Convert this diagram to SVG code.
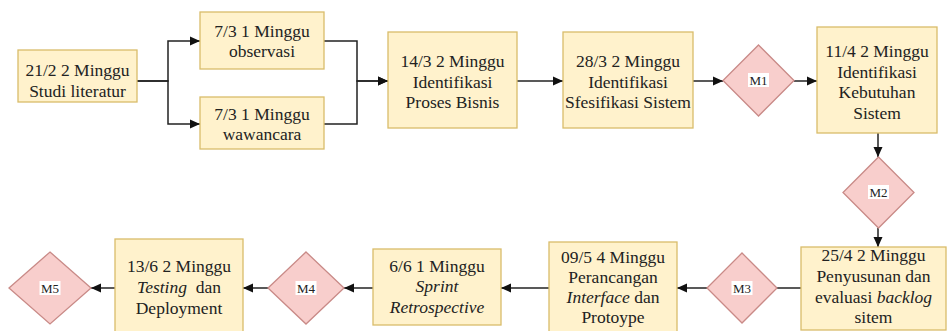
<svg xmlns="http://www.w3.org/2000/svg" width="948" height="331" viewBox="0 0 948 331" font-family="Liberation Serif, Times New Roman, serif">
  <style>
    svg text, svg tspan { font-family: "Liberation Serif", "Times New Roman", serif !important; }
    .task { fill: #fff2cc; stroke: #d9bc6a; stroke-width: 1.3; }
    .milestone { fill: #f8cecc; stroke: #c98a87; stroke-width: 1.3; }
    .mbg { fill: #ffffff; }
    .edge { fill: none; stroke: #222; stroke-width: 1.5; }
    .arrow { marker-end: url(#arrow); }
  </style>
  <defs>
    <marker id="arrow" viewBox="0 0 10 10" refX="10" refY="5" markerWidth="10" markerHeight="10" markerUnits="userSpaceOnUse" orient="auto">
      <path d="M0,0.5 L10,5 L0,9.5 Z" fill="#111"/>
    </marker>
  </defs>

  <rect width="948" height="331" fill="#ffffff"/>

  <!-- connectors -->
  <g id="connectors">
    <path class="edge arrow" d="M137,81 H168 V41 H200"/>
    <path class="edge arrow" d="M137,81 H168 V124 H200"/>
    <path class="edge arrow" d="M324,41 H357 V81 H388"/>
    <path class="edge arrow" d="M324,124 H357 V81 H388"/>
    <path class="edge arrow" d="M517,81 H563"/>
    <path class="edge arrow" d="M693,81 H723"/>
    <path class="edge arrow" d="M794,81 H817"/>
    <path class="edge arrow" d="M878,133 V157"/>
    <path class="edge arrow" d="M878,228 V247"/>
    <path class="edge" d="M801,288 H777"/>
    <path class="edge arrow" d="M707,288 H677"/>
    <path class="edge arrow" d="M549,288 H501"/>
    <path class="edge arrow" d="M373,288 H344"/>
    <path class="edge arrow" d="M268,288 H243"/>
    <path class="edge arrow" d="M115,288 H91"/>
  </g>

  <g fill="#222" text-anchor="middle">
  <!-- top row -->
  <g id="studi-literatur">
    <rect class="task" x="18" y="50" width="119" height="52"/>
    <text x="77.5" y="76" font-family="Liberation Serif" font-size="17.5">21/2 2 Minggu</text>
    <text x="77.5" y="97" font-family="Liberation Serif" font-size="17.5">Studi literatur</text>
  </g>
  <g id="observasi">
    <rect class="task" x="200" y="12" width="124" height="57"/>
    <text x="262" y="37" font-family="Liberation Serif" font-size="17.5">7/3 1 Minggu</text>
    <text x="262" y="57" font-family="Liberation Serif" font-size="17.5">observasi</text>
  </g>
  <g id="wawancara">
    <rect class="task" x="200" y="97" width="124" height="52"/>
    <text x="262" y="120" font-family="Liberation Serif" font-size="17.5">7/3 1 Minggu</text>
    <text x="262" y="140" font-family="Liberation Serif" font-size="17.5">wawancara</text>
  </g>
  <g id="proses-bisnis">
    <rect class="task" x="388" y="32" width="129" height="96"/>
    <text x="452.5" y="67" font-family="Liberation Serif" font-size="17.5">14/3 2 Minggu</text>
    <text x="452.5" y="87.5" font-family="Liberation Serif" font-size="17.5">Identifikasi</text>
    <text x="452.5" y="108" font-family="Liberation Serif" font-size="17.5">Proses Bisnis</text>
  </g>
  <g id="spesifikasi-sistem">
    <rect class="task" x="563" y="32" width="130" height="96"/>
    <text x="628" y="67" font-family="Liberation Serif" font-size="17.5">28/3 2 Minggu</text>
    <text x="628" y="87.5" font-family="Liberation Serif" font-size="17.5">Identifikasi</text>
    <text x="628" y="108" font-family="Liberation Serif" font-size="17.5">Sfesifikasi Sistem</text>
  </g>
  <g id="m1">
    <polygon class="milestone" points="758.5,45 794,80.5 758.5,116 723,80.5"/>
    <rect class="mbg" x="748" y="73" width="21" height="14"/>
    <text x="758.5" y="85" font-family="Liberation Serif" font-size="13">M1</text>
  </g>
  <g id="kebutuhan-sistem">
    <rect class="task" x="817" y="27" width="120" height="106"/>
    <text x="877" y="57" font-family="Liberation Serif" font-size="17.5">11/4 2 Minggu</text>
    <text x="877" y="78" font-family="Liberation Serif" font-size="17.5">Identifikasi</text>
    <text x="877" y="98" font-family="Liberation Serif" font-size="17.5">Kebutuhan</text>
    <text x="877" y="119" font-family="Liberation Serif" font-size="17.5">Sistem</text>
  </g>

  <!-- right column and bottom row -->
  <g id="m2">
    <polygon class="milestone" points="878.5,157 914,192.5 878.5,228 843,192.5"/>
    <rect class="mbg" x="868" y="185" width="21" height="14"/>
    <text x="878.5" y="197" font-family="Liberation Serif" font-size="13">M2</text>
  </g>
  <g id="backlog">
    <rect class="task" x="801" y="247" width="145" height="83"/>
    <text x="873.5" y="261" font-family="Liberation Serif" font-size="17.5">25/4 2 Minggu</text>
    <text x="873.5" y="282" font-family="Liberation Serif" font-size="17.5">Penyusunan dan</text>
    <text x="873.5" y="303" font-family="Liberation Serif" font-size="17.5">evaluasi <tspan font-style="italic">backlog</tspan></text>
    <text x="873.5" y="323" font-family="Liberation Serif" font-size="17.5">sitem</text>
  </g>
  <g id="m3">
    <polygon class="milestone" points="742,253 777,288 742,323 707,288"/>
    <rect class="mbg" x="731.5" y="281" width="21" height="14"/>
    <text x="742" y="292.5" font-family="Liberation Serif" font-size="13">M3</text>
  </g>
  <g id="perancangan-interface">
    <rect class="task" x="549" y="242" width="128" height="94"/>
    <text x="613" y="263" font-family="Liberation Serif" font-size="17.5">09/5 4 Minggu</text>
    <text x="613" y="283" font-family="Liberation Serif" font-size="17.5">Perancangan</text>
    <text x="613" y="303" font-family="Liberation Serif" font-size="17.5"><tspan font-style="italic">Interface</tspan> dan</text>
    <text x="613" y="323" font-family="Liberation Serif" font-size="17.5">Protoype</text>
  </g>
  <g id="sprint-retrospective">
    <rect class="task" x="373" y="249" width="128" height="76"/>
    <text x="437" y="272" font-family="Liberation Serif" font-size="17.5">6/6 1 Minggu</text>
    <text x="437" y="292" font-family="Liberation Serif" font-size="17.5" font-style="italic">Sprint</text>
    <text x="437" y="313" font-family="Liberation Serif" font-size="17.5" font-style="italic">Retrospective</text>
  </g>
  <g id="m4">
    <polygon class="milestone" points="306,252 344,288 306,324 268,288"/>
    <rect class="mbg" x="295.5" y="281" width="21" height="14"/>
    <text x="306" y="292.5" font-family="Liberation Serif" font-size="13">M4</text>
  </g>
  <g id="testing-deployment">
    <rect class="task" x="115" y="239" width="128" height="97"/>
    <text x="179" y="272" font-family="Liberation Serif" font-size="17.5">13/6 2 Minggu</text>
    <text x="179" y="293" font-family="Liberation Serif" font-size="17.5" xml:space="preserve"><tspan font-style="italic">Testing</tspan>  dan</text>
    <text x="179" y="314" font-family="Liberation Serif" font-size="17.5">Deployment</text>
  </g>
  <g id="m5">
    <polygon class="milestone" points="50,252 91,288 50,324 9,288"/>
    <rect class="mbg" x="39.5" y="281" width="21" height="14"/>
    <text x="50" y="292.5" font-family="Liberation Serif" font-size="13">M5</text>
  </g>
  </g>
</svg>
